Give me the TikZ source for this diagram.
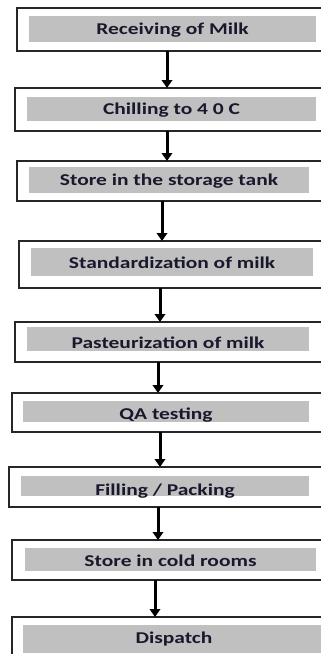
\documentclass[tikz,border=0pt]{standalone}
\usepackage{fontspec}
\setmainfont{Carlito}
\newfontfamily\stepfont[FakeStretch=1.3]{Carlito}
\usepackage{tikz}
\usetikzlibrary{arrows.meta}
\definecolor{bandgray}{RGB}{192,192,192}
\definecolor{inkblue}{RGB}{25,25,45}
\tikzset{
    % outer frame of each step
    stepframe/.style={
           draw=black!85,
           line width=2pt,
           inner sep=0pt,
           outer sep=0pt,
           },
    % grey band behind the text
    stepband/.style={
           fill=bandgray,
           inner sep=0pt,
           outer sep=0pt,
           },
    steptext/.style={
           inner sep=0pt,
           text=inkblue,
           font=\stepfont\bfseries\fontsize{16.5}{19}\selectfont,
           },
    flowarrow/.style={
           -{Triangle[width=10.5pt,length=8pt]},
           line width=3pt,
           black,
}
}
\begin{document}
\begin{tikzpicture}[x=1pt,y=-1pt]
  	\useasboundingbox (0,0) rectangle (321,654);
  	\clip (0,0) rectangle (321,654);
  	\fill[white] (0,0) rectangle (321,654);
  	\node[stepframe, minimum width=311pt, minimum height=43pt] (f1) at (172.5,29.5) {};
  	\node[stepband, minimum width=287pt, minimum height=26pt] (s1) at (172.5,29) {};
  	\node[steptext] (t1) at ([yshift=-1pt]s1) {Receiving of Milk};
  	\node[stepframe, minimum width=313pt, minimum height=43pt] (f2) at (171.5,109.5) {};
  	\node[stepband, minimum width=289pt, minimum height=24pt] (s2) at (171.5,109) {};
  	\node[steptext] (t2) at ([yshift=-1pt]s2) {Chilling to 4 0 C};
  	\node[stepframe, minimum width=311pt, minimum height=40pt] (f3) at (172.5,181) {};
  	\node[stepband, minimum width=280pt, minimum height=26pt] (s3) at (169,180) {};
  	\node[steptext] (t3) at ([yshift=-1pt]s3) {Store in the storage tank};
  	\node[stepframe, minimum width=309pt, minimum height=47pt] (f4) at (173.5,264.5) {};
  	\node[stepband, minimum width=282pt, minimum height=28pt] (s4) at (172,262) {};
  	\node[steptext] (t4) at ([yshift=-1pt]s4) {Standardization of milk};
  	\node[stepframe, minimum width=313pt, minimum height=40pt] (f5) at (171.5,342) {};
  	\node[stepband, minimum width=282pt, minimum height=24pt] (s5) at (168,338.5) {};
  	\node[steptext] (t5) at ([yshift=-4pt]s5) {Pasteurization of milk};
  	\node[stepframe, minimum width=316pt, minimum height=39pt] (f6) at (170,412.5) {};
  	\node[stepband, minimum width=286pt, minimum height=21pt] (s6) at (166,411.5) {};
  	\node[steptext] (t6) at ([yshift=-4pt]s6) {QA testing};
  	\node[stepframe, minimum width=319pt, minimum height=40pt] (f7) at (168.5,487) {};
  	\node[stepband, minimum width=288pt, minimum height=20pt] (s7) at (165,486) {};
  	\node[steptext] (t7) at ([yshift=-5pt]s7) {Filling / Packing};
  	\node[stepframe, minimum width=316pt, minimum height=40pt] (f8) at (170,560) {};
  	\node[stepband, minimum width=291pt, minimum height=23pt] (s8) at (170.5,559.5) {};
  	\node[steptext] (t8) at ([yshift=-1pt]s8) {Store in cold rooms};
  	\node[stepframe, minimum width=316pt, minimum height=48pt] (f9) at (170,641) {};
  	\node[stepband, minimum width=302pt, minimum height=28pt] (s9) at (174,639) {};
  	\node[steptext] (t9) at ([yshift=0pt]s9) {Dispatch};
%  	arrows between the steps
  	\draw [flowarrow] (f1.south -| 167,0) -- (f2.north -| 167,0);
  	\draw [flowarrow] (f2.south -| 167,0) -- (f3.north -| 167,0);
  	\draw [flowarrow] (f3.south -| 162,0) -- (f4.north -| 162,0);
  	\draw [flowarrow] (f4.south -| 160,0) -- (f5.north -| 160,0);
  	\draw [flowarrow] (f5.south -| 158,0) -- (f6.north -| 158,0);
  	\draw [flowarrow] (f6.south -| 160,0) -- (f7.north -| 160,0);
  	\draw [flowarrow] (f7.south -| 158,0) -- (f8.north -| 158,0);
  	\draw [flowarrow] (f8.south -| 155,0) -- (f9.north -| 155,0);
\end{tikzpicture}
\end{document}
